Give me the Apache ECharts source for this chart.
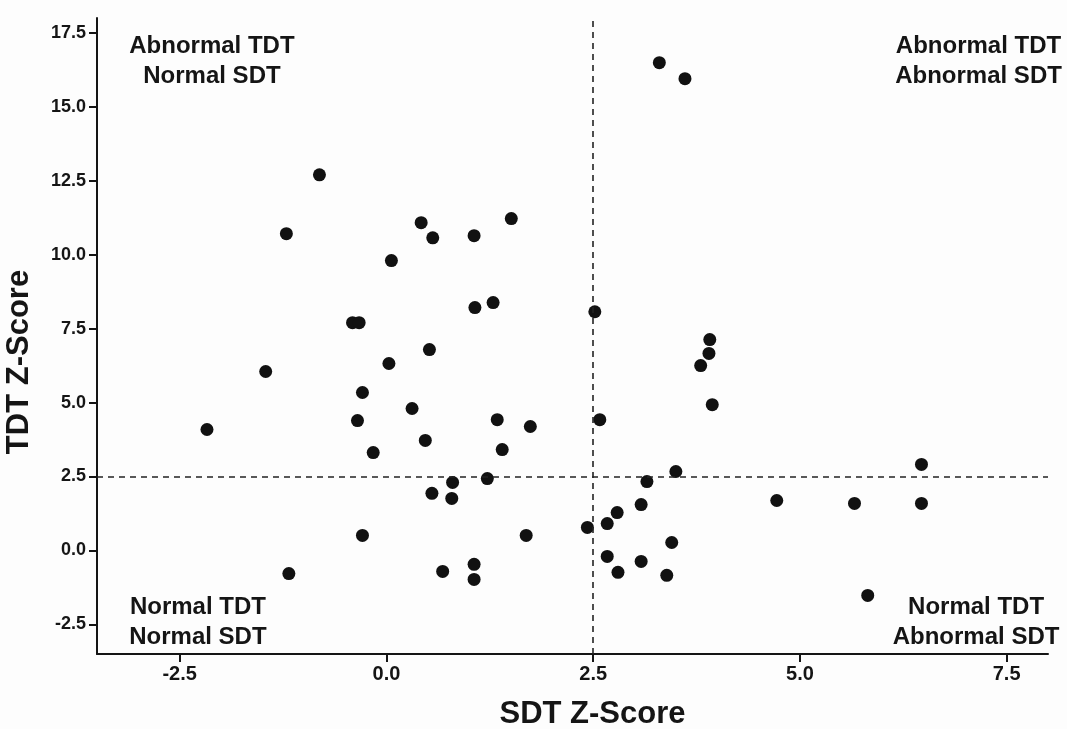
<!DOCTYPE html>
<html>
<head>
<meta charset="utf-8">
<title>TDT vs SDT Z-Scores</title>
<script src="https://cdn.jsdelivr.net/npm/echarts@6/dist/echarts.min.js"></script>
<style>
  html, body { margin: 0; padding: 0; background: #fdfdfd; }
  #chart { width: 1067px; height: 729px; }
</style>
</head>
<body>
<div id="chart"></div>
<script>
// SDT z-score (x) and TDT z-score (y) for each subject
const sdtScores = [
  3.30, 3.61, 2.52, 3.91, 3.90, 3.80, 3.94, 2.58, 3.50, 6.47,
  3.15, 3.08, 2.79, 2.67, 2.43, 3.45, 2.67, 3.08, 2.80, 3.39,
  4.72, 5.66, 6.47, 5.82,
  -0.81, -1.21, 0.42, 0.56, 1.06, 1.51, 0.06, 1.07, 1.29, -0.41,
  -0.33, 0.52, 0.03, -1.46, -0.29, 0.31, -0.35, 1.34, 1.74, -2.17,
  0.47, 1.40, -0.16,
  0.80, 1.22, 0.55, 0.79, -0.29, 1.69, -1.18, 0.68, 1.06, 1.06
];
const tdtScores = [
  16.49, 15.95, 8.07, 7.13, 6.66, 6.25, 4.93, 4.42, 2.67, 2.91,
  2.33, 1.55, 1.28, 0.91, 0.78, 0.27, -0.20, -0.37, -0.74, -0.84,
  1.69, 1.59, 1.59, -1.52,
  12.70, 10.71, 11.08, 10.57, 10.64, 11.22, 9.80, 8.21, 8.38, 7.70,
  7.70, 6.79, 6.32, 6.05, 5.34, 4.80, 4.39, 4.42, 4.19, 4.09,
  3.72, 3.41, 3.31,
  2.30, 2.43, 1.93, 1.76, 0.51, 0.51, -0.78, -0.71, -0.47, -0.98
];

// Cut-off used for an abnormal z-score on both tests
const cutoff = 2.5;

// Axis tick labels
const xTicks = [-2.5, 0.0, 2.5, 5.0, 7.5];
const yTicks = [-2.5, 0.0, 2.5, 5.0, 7.5, 10.0, 12.5, 15.0, 17.5];

// Quadrant captions and where they sit (data units)
const quadrantText = [
  'Abnormal TDT\nNormal SDT',
  'Abnormal TDT\nAbnormal SDT',
  'Normal TDT\nNormal SDT',
  'Normal TDT\nAbnormal SDT'
];
const quadrantX = [-2.11, 7.16, -2.28, 7.13];
const quadrantY = [16.55, 16.55, -2.42, -2.42];

const points = sdtScores.map((x, i) => [x, tdtScores[i]]);
const captions = quadrantText.map((t, i) => [quadrantX[i], quadrantY[i], t]);

const FONT = '"Liberation Sans", Arial, Helvetica, sans-serif';
const INK = '#151515';

const chart = echarts.init(document.getElementById('chart'), null, { renderer: 'canvas' });

const fmt = v => Number(v).toFixed(1);

chart.setOption({
  backgroundColor: '#fdfdfd',
  animation: false,
  grid: {
    left: 97, right: 19, top: 18, bottom: 75,
    containLabel: false,
    outerBoundsMode: 'none'
  },
  xAxis: {
    type: 'value',
    min: -3.5,
    max: 8.0,
    name: 'SDT Z-Score',
    nameLocation: 'middle',
    nameGap: 45,
    nameTextStyle: {
      fontFamily: FONT, fontWeight: 'bold', fontSize: 31, color: INK,
      padding: [0, 0, 0, 40]
    },
    axisLine: { onZero: false, lineStyle: { color: INK, width: 2 } },
    axisTick: { show: true, length: 8, lineStyle: { color: INK, width: 2 }, customValues: xTicks },
    axisLabel: {
      customValues: xTicks,
      formatter: fmt,
      margin: 10,
      fontFamily: FONT, fontWeight: 'bold', fontSize: 20, color: INK
    },
    splitLine: { show: false }
  },
  yAxis: {
    type: 'value',
    min: -3.5,
    max: 18.0,
    name: 'TDT Z-Score',
    nameLocation: 'middle',
    nameGap: 62,
    nameTextStyle: {
      fontFamily: FONT, fontWeight: 'bold', fontSize: 31, color: INK,
      padding: [0, 52, 0, 0]
    },
    axisLine: { onZero: false, lineStyle: { color: INK, width: 2 } },
    axisTick: { show: true, length: 8, lineStyle: { color: INK, width: 2 }, customValues: yTicks },
    axisLabel: {
      customValues: yTicks,
      formatter: fmt,
      margin: 11,
      fontFamily: FONT, fontWeight: 'bold', fontSize: 18, color: INK
    },
    splitLine: { show: false }
  },
  series: [
    {
      name: 'Subjects',
      type: 'scatter',
      data: points,
      symbol: 'circle',
      symbolSize: 13,
      itemStyle: { color: '#111', opacity: 1 },
      markLine: {
        silent: true,
        symbol: 'none',
        label: { show: false },
        lineStyle: { color: '#222', width: 1.6, type: [6, 5], opacity: 1 },
        data: [{ xAxis: cutoff }, { yAxis: cutoff }]
      }
    },
    {
      name: 'Quadrants',
      type: 'scatter',
      silent: true,
      symbolSize: 0,
      data: captions,
      itemStyle: { opacity: 1 },
      label: {
        show: true,
        position: 'inside',
        formatter: p => p.data[2],
        fontFamily: FONT,
        fontWeight: 'bold',
        fontSize: 24,
        lineHeight: 30,
        align: 'center',
        verticalAlign: 'middle',
        color: INK
      }
    }
  ]
});
</script>
</body>
</html>
